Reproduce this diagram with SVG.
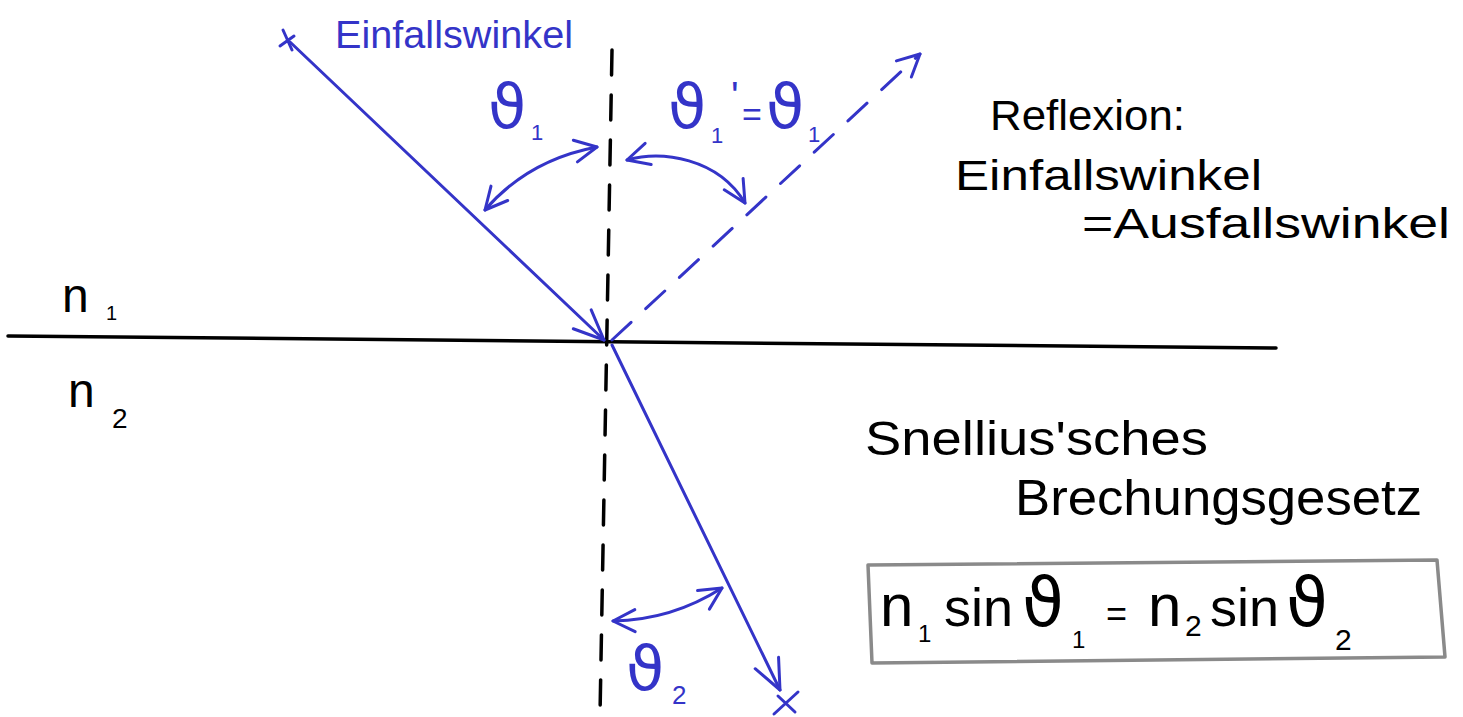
<svg xmlns="http://www.w3.org/2000/svg" width="1463" height="717" viewBox="0 0 1463 717">
<style>
  .blue { stroke: #3434c8; fill: none; stroke-width: 3; stroke-linecap: round; stroke-linejoin: round; }
  .black { stroke: #000; fill: none; stroke-width: 3.5; stroke-linecap: round; }
  .t { font-family: "Liberation Sans", "DejaVu Sans", sans-serif; }
  .th { font-family: "DejaVu Sans", sans-serif; }
  .tb { fill: #3434c8; }
  .tk { fill: #000; }
</style>
<defs>
  <marker id="arr" markerUnits="userSpaceOnUse" viewBox="-40 -20 44 40" refX="0" refY="0" markerWidth="44" markerHeight="40" orient="auto-start-reverse" overflow="visible">
    <path d="M-30,-13 L0,0 L-30,13" fill="none" stroke="#3434c8" stroke-width="3" stroke-linecap="round" stroke-linejoin="round"/>
  </marker>
  <marker id="arrs" markerUnits="userSpaceOnUse" viewBox="-40 -20 44 40" refX="0" refY="0" markerWidth="44" markerHeight="40" orient="auto-start-reverse" overflow="visible">
    <path d="M-22,-11 L0,0 L-22,11" fill="none" stroke="#3434c8" stroke-width="3" stroke-linecap="round" stroke-linejoin="round"/>
  </marker>
</defs>

<g id="interface">
  <line class="black" x1="8" y1="336" x2="1276" y2="348"/>
</g>
<g id="normal">
  <line class="black" x1="612" y1="50" x2="600" y2="715" stroke-dasharray="25 20"/>
</g>

<g id="connectors">
  <g id="incident-ray">
    <path class="blue" d="M283,30 L292,50 M280,46 L294,36"/>
    <line class="blue" x1="290" y1="42" x2="604" y2="340" marker-end="url(#arr)"/>
  </g>
  <g id="reflected-ray">
    <line class="blue" x1="612" y1="340" x2="920" y2="54" stroke-dasharray="26 20" stroke-width="2.4" marker-end="url(#arrs)"/>
  </g>
  <g id="refracted-ray">
    <line class="blue" x1="612" y1="345" x2="780" y2="690" marker-end="url(#arr)"/>
    <path class="blue" d="M774,714 L798,692 M778,696 L795,712"/>
  </g>
  <g id="arc-theta1">
    <path class="blue" d="M485,210 Q528,160 597,147" marker-start="url(#arrs)" marker-end="url(#arrs)"/>
  </g>
  <g id="arc-theta1r">
    <path class="blue" d="M627,160 C662,150 718,158 745,203" marker-start="url(#arrs)" marker-end="url(#arrs)"/>
  </g>
  <g id="arc-theta2">
    <path class="blue" d="M613,621 Q672,620 722,588" marker-start="url(#arrs)" marker-end="url(#arrs)"/>
  </g>
</g>

<g id="label-einfallswinkel-blue">
  <text class="t tb" x="335" y="48" font-size="38" textLength="238" lengthAdjust="spacingAndGlyphs">Einfallswinkel</text>
</g>
<g id="label-theta1">
  <text class="th tb" x="488" y="128" font-size="62">ϑ</text>
  <text class="t tb" x="531" y="140" font-size="22">1</text>
</g>
<g id="label-theta1r">
  <text class="th tb" x="668" y="128" font-size="62">ϑ</text>
  <text class="t tb" x="711" y="143" font-size="22">1</text>
  <text class="t tb" x="731" y="110" font-size="40">'</text>
  <text class="t tb" x="742" y="126" font-size="34">=</text>
  <text class="th tb" x="766" y="128" font-size="62">ϑ</text>
  <text class="t tb" x="808" y="142" font-size="22">1</text>
</g>
<g id="label-theta2">
  <text class="th tb" x="626" y="690" font-size="62">ϑ</text>
  <text class="t tb" x="672" y="704" font-size="26">2</text>
</g>

<g id="label-n1">
  <text class="t tk" x="62" y="312" font-size="48">n</text>
  <text class="t tk" x="106" y="320" font-size="20">1</text>
</g>
<g id="label-n2">
  <text class="t tk" x="68" y="407" font-size="48">n</text>
  <text class="t tk" x="112" y="428" font-size="28">2</text>
</g>

<g id="reflexion-note">
  <text class="t tk" x="990" y="130" font-size="42" textLength="195" lengthAdjust="spacingAndGlyphs">Reflexion:</text>
  <text class="t tk" x="955" y="190" font-size="42" textLength="307" lengthAdjust="spacingAndGlyphs">Einfallswinkel</text>
  <text class="t tk" x="1082" y="238" font-size="42" textLength="368" lengthAdjust="spacingAndGlyphs">=Ausfallswinkel</text>
</g>

<g id="snellius-title">
  <text class="t tk" x="865" y="455" font-size="48" textLength="343" lengthAdjust="spacingAndGlyphs">Snellius'sches</text>
  <text class="t tk" x="1015" y="515" font-size="50" textLength="407" lengthAdjust="spacingAndGlyphs">Brechungsgesetz</text>
</g>

<g id="snellius-formula">
  <path d="M868,565 L1437,560 L1445,657 L872,663 Z" fill="none" stroke="#8a8a8a" stroke-width="3.5" stroke-linejoin="round"/>
  <text class="t tk" x="880" y="626" font-size="60">n</text>
  <text class="t tk" x="918" y="642" font-size="24">1</text>
  <text class="t tk" x="944" y="626" font-size="54">sin</text>
  <text class="th tk" x="1022" y="626" font-size="68">ϑ</text>
  <text class="t tk" x="1072" y="648" font-size="24">1</text>
  <text class="t tk" x="1106" y="626" font-size="36">=</text>
  <text class="t tk" x="1148" y="626" font-size="60">n</text>
  <text class="t tk" x="1185" y="636" font-size="30">2</text>
  <text class="t tk" x="1210" y="626" font-size="54">sin</text>
  <text class="th tk" x="1286" y="626" font-size="68">ϑ</text>
  <text class="t tk" x="1335" y="650" font-size="30">2</text>
</g>
</svg>
